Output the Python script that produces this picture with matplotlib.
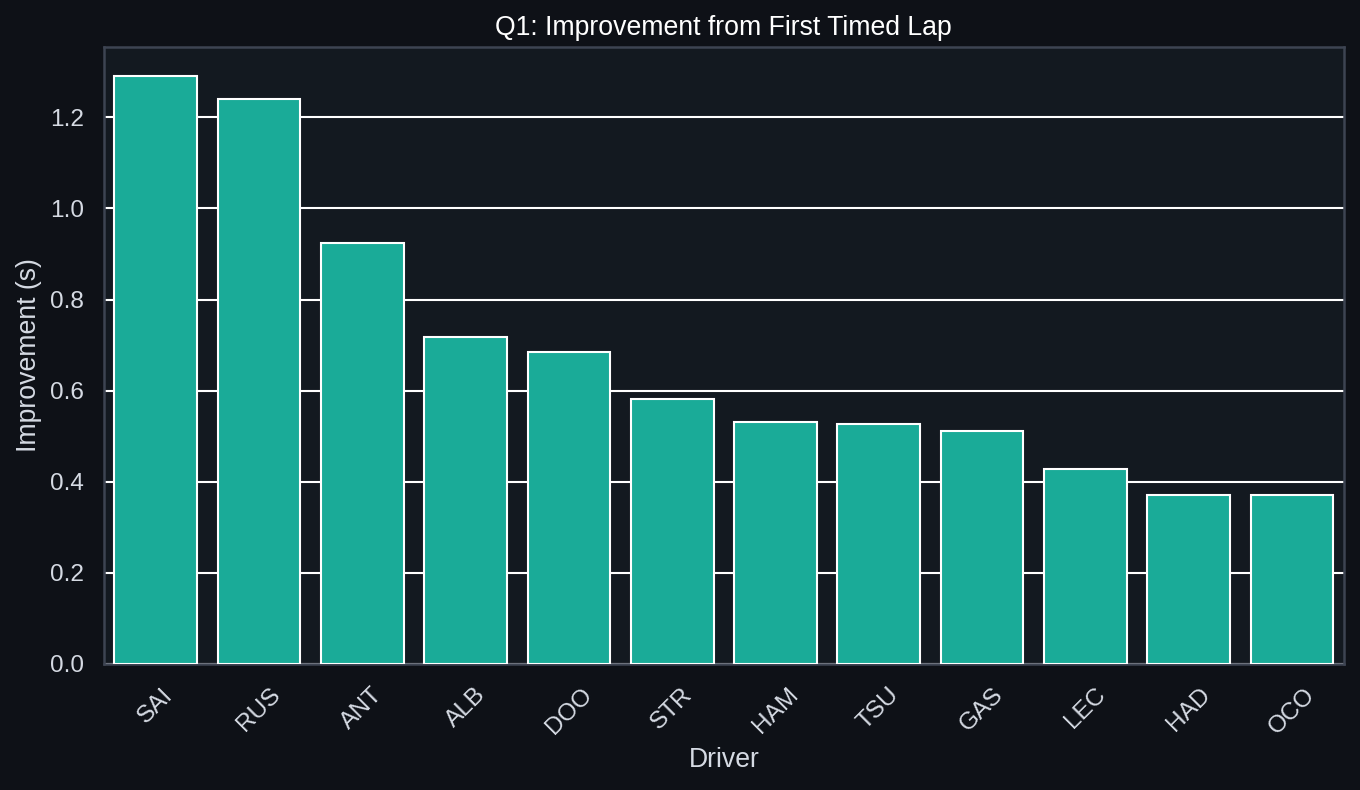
import matplotlib
matplotlib.use("Agg")
import matplotlib.pyplot as plt
import seaborn as sns

drivers = ["SAI", "RUS", "ANT", "ALB", "DOO", "STR", "HAM", "TSU", "GAS", "LEC", "HAD", "OCO"]
improvement = [1.290, 1.240, 0.925, 0.718, 0.685, 0.581, 0.531, 0.526, 0.511, 0.427, 0.372, 0.372]

fig_bg = "#0e1117"
ax_bg = "#131920"
text_col = "#d5dae3"
spine_col = "#3d4452"
bar_col = "#1aab98"

sns.set_theme(style="darkgrid", context="notebook")
plt.rcParams["font.family"] = ["Liberation Sans", "DejaVu Sans"]

fig, ax = plt.subplots(figsize=(1360 / 150, 790 / 150), dpi=150)
fig.patch.set_facecolor(fig_bg)
ax.set_facecolor(ax_bg)

ax.bar(drivers, improvement, width=0.8, color=bar_col, edgecolor="white", linewidth=1.0, zorder=3)

ax.set_xlim(-0.5, len(drivers) - 0.5)
ax.grid(axis="y", color="white", linewidth=1.0, zorder=0)
ax.grid(axis="x", visible=False)

ax.set_title("Q1: Improvement from First Timed Lap", color="white", fontsize=12.8)
ax.set_xlabel("Driver", color=text_col, fontsize=12.8)
ax.set_ylabel("Improvement (s)", color=text_col, fontsize=12.8)
ax.tick_params(axis="both", colors=text_col, labelsize=11.7)
plt.setp(ax.get_xticklabels(), rotation=45)

for s in ax.spines.values():
    s.set_visible(True)
    s.set_color(spine_col)
    s.set_linewidth(1.2)

fig.subplots_adjust(left=0.0765, right=0.988, top=0.9405, bottom=0.1595)
fig.savefig("out.png", dpi=150, facecolor=fig_bg)
